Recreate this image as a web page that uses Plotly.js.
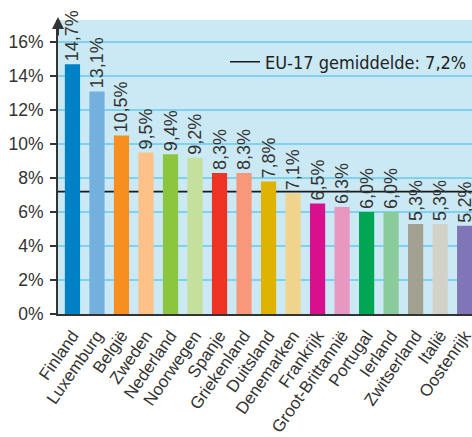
<!DOCTYPE html>
<html>
<head>
<meta charset="utf-8">
<script src="https://cdn.plot.ly/plotly-3.0.1.min.js"></script>
<style>html,body{margin:0;padding:0;background:#fff}#chart{width:472px;height:437px}</style>
</head>
<body>
<div id="chart"></div>
<script>
const countries = ["Finland","Luxemburg","België","Zweden","Nederland","Noorwegen","Spanje","Griekenland","Duitsland","Denemarken","Frankrijk","Groot-Brittannië","Portugal","Ierland","Zwitserland","Italië","Oostenrijk"];
const values = [14.7,13.1,10.5,9.5,9.4,9.2,8.3,8.3,7.8,7.1,6.5,6.3,6.0,6.0,5.3,5.3,5.2];
const barColors = ["#0081c6","#74b0dd","#f68f20","#fdc187","#8cc63f","#c5df9c","#ee3324","#f9977a","#dfb301","#f0d48b","#d9108d","#e897c1","#00a651","#89cb9b","#a2a191","#d3d2c8","#8075b6"];
const euAverage = 7.2;
const euLabel = "EU-17 gemiddelde: 7,2%";
const yTickVals = [0,2,4,6,8,10,12,14,16];
const yTickText = ["0%","2%","4%","6%","8%","10%","12%","14%","16%"];

const fmt = v => v.toFixed(1).replace('.', ',') + '%';

const traces = [
  {
    type: 'bar',
    x: countries,
    y: values,
    marker: {color: barColors, line: {width: 0}},
    text: values.map(fmt),
    textposition: 'outside',
    textangle: -90,
    constraintext: 'none',
    cliponaxis: false,
    textfont: {family: 'Liberation Sans, Arial, sans-serif', size: 18, color: '#333'},
    showlegend: false,
    hoverinfo: 'skip'
  },
  {
    type: 'scatter',
    mode: 'lines',
    x: [null],
    y: [null],
    name: euLabel,
    line: {color: '#1a1a1a', width: 1.5},
    showlegend: true
  }
];

const layout = {
  width: 472,
  height: 437,
  margin: {l: 58, r: 0, t: 20, b: 123},
  paper_bgcolor: '#ffffff',
  plot_bgcolor: '#cbe9f4',
  bargap: 0.38,
  showlegend: true,
  legend: {
    x: 1, xanchor: 'right', y: 0.92, yanchor: 'top',
    bgcolor: 'rgba(0,0,0,0)',
    font: {family: 'DejaVu Sans Condensed, Liberation Sans Narrow, sans-serif', size: 18, color: '#222'},
    itemwidth: 30
  },
  xaxis: {
    type: 'category',
    range: [-0.59, 16.3],
    tickangle: -55,
    tickfont: {family: 'Liberation Sans, Arial, sans-serif', size: 17, color: '#333'},
    ticklabelstandoff: 3,
    showline: true, linecolor: '#333', linewidth: 2,
    ticks: '', showgrid: false, zeroline: false,
    fixedrange: true
  },
  yaxis: {
    range: [0, 17.3],
    tickvals: yTickVals,
    ticktext: yTickText,
    tickfont: {family: 'Liberation Sans, Arial, sans-serif', size: 17.5, color: '#333'},
    ticklabelstandoff: 3,
    showline: true, linecolor: '#333', linewidth: 2,
    ticks: 'outside', ticklen: 6, tickwidth: 1.5, tickcolor: '#333',
    showgrid: true, gridcolor: '#7fd2ee', gridwidth: 1.5,
    zeroline: false,
    fixedrange: true
  },
  shapes: [
    {type: 'line', xref: 'paper', x0: 0, x1: 1, yref: 'y', y0: euAverage, y1: euAverage,
     line: {color: '#1a1a1a', width: 1.8}, layer: 'below'}
  ],
  annotations: [
    {xref: 'paper', yref: 'paper', x: 0, y: 1.01, text: '', showarrow: true,
     ax: 0, ay: 20, arrowhead: 2, arrowsize: 1.2, arrowwidth: 2, arrowcolor: '#333'}
  ]
};

Plotly.newPlot('chart', traces, layout, {staticPlot: true, displayModeBar: false});
</script>
</body>
</html>
